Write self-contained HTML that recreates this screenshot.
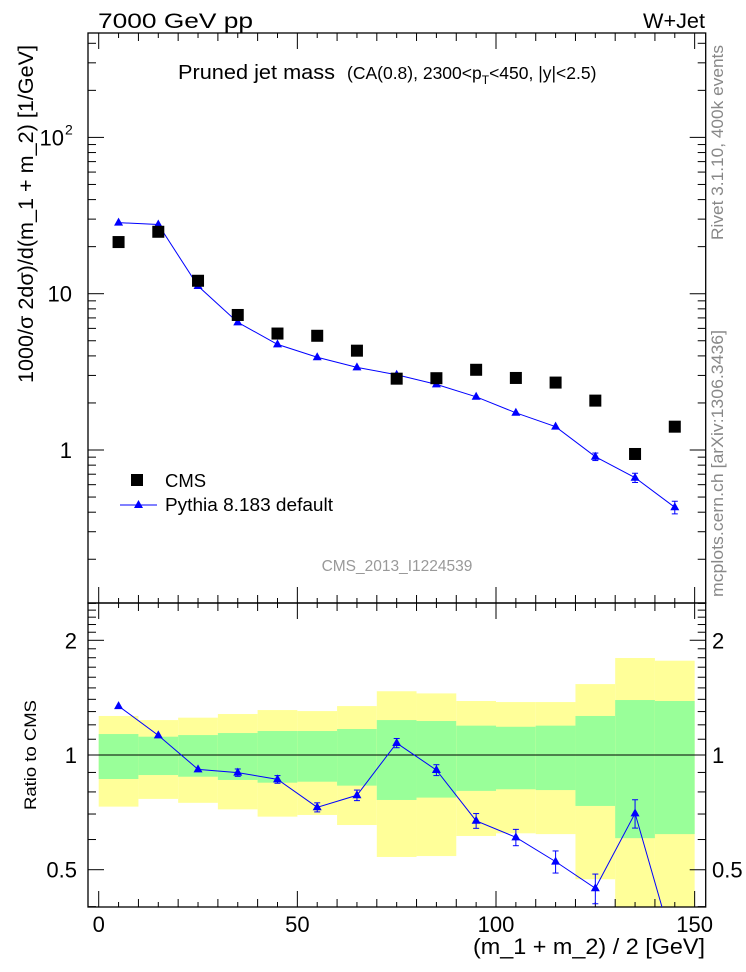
<!DOCTYPE html>
<html><head><meta charset="utf-8"><style>
html,body{margin:0;padding:0;background:#fff;}
svg{display:block;font-family:"Liberation Sans",sans-serif;}
</style></head><body>
<svg id="chart" width="746" height="972" viewBox="0 0 746 972" xmlns="http://www.w3.org/2000/svg">
<defs>
<clipPath id="rclip"><rect x="88" y="603" width="617.7" height="304"/></clipPath>
<clipPath id="mclip"><rect x="88" y="33" width="617.7" height="570"/></clipPath>
</defs>
<g id="bands" clip-path="url(#rclip)"></g>
<g id="grid"></g>
<g id="marks"></g>
<text x="98" y="28" font-size="21" textLength="155" lengthAdjust="spacingAndGlyphs">7000 GeV pp</text>
<text x="643" y="28" font-size="21" textLength="62" lengthAdjust="spacingAndGlyphs">W+Jet</text>
<text x="178" y="79" font-size="20"><tspan textLength="157" lengthAdjust="spacingAndGlyphs">Pruned jet mass</tspan><tspan font-size="17.5" x="347">(CA(0.8), 2300&lt;p</tspan><tspan font-size="12" dy="5">T</tspan><tspan font-size="17.5" dy="-5">&lt;450, |y|&lt;2.5)</tspan></text>
<text x="397" y="571" font-size="15.5" fill="#999" text-anchor="middle">CMS_2013_I1224539</text>
<text transform="translate(33,214) rotate(-90)" font-size="21" text-anchor="middle" textLength="338" lengthAdjust="spacingAndGlyphs">1000/σ 2dσ)/d(m_1 + m_2) [1/GeV]</text>
<text transform="translate(36,755) rotate(-90)" font-size="17" text-anchor="middle" textLength="110" lengthAdjust="spacingAndGlyphs">Ratio to CMS</text>
<text x="473" y="954" font-size="22" textLength="232" lengthAdjust="spacingAndGlyphs">(m_1 + m_2) / 2 [GeV]</text>
<text transform="translate(723,240) rotate(-90)" font-size="17" fill="#888" textLength="195" lengthAdjust="spacingAndGlyphs">Rivet 3.1.10,  400k events</text>
<text transform="translate(723,597) rotate(-90)" font-size="17" fill="#888" textLength="267" lengthAdjust="spacingAndGlyphs">mcplots.cern.ch [arXiv:1306.3436]</text>
<g>
<rect x="131" y="474" width="12" height="12" fill="#000"/>
<text x="165" y="487" font-size="18.5">CMS</text>
<line x1="120" y1="505" x2="157" y2="505" stroke="#00f" stroke-width="1"/>
<path d="M138.5,500 L143,508 L134,508 Z" fill="#00f"/>
<text x="165" y="511" font-size="18.5" textLength="168" lengthAdjust="spacingAndGlyphs">Pythia 8.183 default</text>
</g>
</svg>
<script>
const binEdges = [0,10,20,30,40,50,60,70,80,90,100,110,120,130,140,150];
const binCenters = [5,15,25,35,45,55,65,75,85,95,105,115,125,135,145];
const cmsValues = [21.4,24.9,12.1,7.31,5.56,5.38,4.32,2.86,2.88,3.26,2.89,2.70,2.07,0.943,1.41];
const pythiaValues = [28.5,27.7,11.2,6.56,4.74,3.92,3.38,3.03,2.63,2.19,1.73,1.41,0.906,0.665,0.430];
const pythiaErrors = [0.3,0.3,0.15,0.1,0.07,0.06,0.05,0.05,0.05,0.04,0.04,0.035,0.05,0.045,0.04];
const ratioValues = [1.344,1.126,0.917,0.899,0.863,0.729,0.784,1.075,0.913,0.672,0.608,0.525,0.447,0.703,0.305];
const ratioErrors = [0.01,0.01,0.01,0.02,0.02,0.02,0.025,0.03,0.03,0.03,0.03,0.035,0.04,0.06,0.05];
const yellowHi = [1.266,1.235,1.253,1.281,1.312,1.304,1.344,1.47,1.451,1.386,1.377,1.377,1.535,1.797,1.768];
const greenHi = [1.135,1.117,1.128,1.142,1.156,1.156,1.170,1.235,1.228,1.194,1.186,1.194,1.266,1.394,1.386];
const greenLo = [0.865,0.886,0.877,0.860,0.846,0.851,0.831,0.762,0.773,0.805,0.813,0.809,0.735,0.605,0.620];
const yellowLo = [0.732,0.767,0.749,0.720,0.689,0.696,0.655,0.54,0.543,0.613,0.623,0.620,0.472,0.30,0.30];
const xTicks = [0,50,100,150];
const ratioTicks = [0.5,1,2];

const NS="http://www.w3.org/2000/svg";
const X=v=>98.7+v*3.973;
const Y=v=>450-Math.log10(v)*156.3;
const R=v=>755-Math.log2(v)*114.7;
const L=88, Rt=705.7, T=33, M=603, B=907;
function mk(tag,attrs,parent){const e=document.createElementNS(NS,tag);for(const k in attrs)e.setAttribute(k,attrs[k]);parent.appendChild(e);return e;}
const bands=document.getElementById('bands'), grid=document.getElementById('grid'), marks=document.getElementById('marks');

for(let i=0;i<binCenters.length;i++){
  const x0=X(binEdges[i]), x1=X(binEdges[i+1]);
  const y=mk('rect',{x:x0,y:R(yellowHi[i]),width:x1-x0,height:R(yellowLo[i])-R(yellowHi[i]),fill:'#ffff99'},bands);
  
  
  const g=mk('rect',{x:x0,y:R(greenHi[i]),width:x1-x0,height:R(greenLo[i])-R(greenHi[i]),fill:'#99ff99'},bands);
  
  
}
const ul=mk('line',{x1:L,x2:Rt,y1:R(1),y2:R(1),stroke:'#000','stroke-width':1},grid);



const f1=mk('rect',{x:L,y:T,width:Rt-L,height:M-T,fill:'none',stroke:'#000','stroke-width':1.3},grid);


const f2=mk('rect',{x:L,y:M,width:Rt-L,height:B-M,fill:'none',stroke:'#000','stroke-width':1.3},grid);



for(let v=0;v<=150;v+=10){
  const maj=v%50===0, x=X(v), len=maj?16:8;
  [[T,1],[M,-1],[M,1],[B,-1]].forEach(([yy,d])=>{
    mk('line',{x1:x,x2:x,y1:yy,y2:yy+d*len,stroke:'#000','stroke-width':1},grid);
  });
}
for(let v=5;v<150;v+=10){
  const x=X(v);
  [[T,1],[M,-1],[M,1],[B,-1]].forEach(([yy,d])=>mk('line',{x1:x,x2:x,y1:yy,y2:yy+d*5,stroke:'#000','stroke-width':1},grid));
}
xTicks.forEach(v=>{
  const t=mk('text',{x:X(v),y:932,'font-size':22,'text-anchor':'middle'},grid);
  t.textContent=v;
  
  
});
for(let e=-1;e<=2;e++){
  for(let m=1;m<=9;m++){
    const v=m*Math.pow(10,e), y=Y(v);
    if(y<T||y>M)continue;
    const len=m===1?16:8;
    mk('line',{x1:L,x2:L+len,y1:y,y2:y,stroke:'#000','stroke-width':1},grid);
    mk('line',{x1:Rt,x2:Rt-len,y1:y,y2:y,stroke:'#000','stroke-width':1},grid);
  }
}
[[1,'1'],[10,'10']].forEach(([v,s])=>{
  const t=mk('text',{x:72,y:Y(v)+8,'font-size':22,'text-anchor':'end'},grid);
  t.textContent=s;
  
  
});
const t100=mk('text',{x:64,y:Y(100)+8,'font-size':22,'text-anchor':'end'},grid);
t100.textContent='10';


const sup=mk('text',{x:65,y:Y(100)-3,'font-size':14},grid);
sup.textContent='2';
const rminor=[0.4,0.5,0.6,0.7,0.8,0.9,1,1.1,1.2,1.3,1.4,1.5,1.6,1.7,1.8,1.9,2,2.1,2.2,2.3,2.4,2.5];
rminor.forEach(v=>{
  const y=R(v); if(y<M||y>B)return;
  const len=ratioTicks.includes(v)?16:8;
  mk('line',{x1:L,x2:L+len,y1:y,y2:y,stroke:'#000','stroke-width':1},grid);
  mk('line',{x1:Rt,x2:Rt-len,y1:y,y2:y,stroke:'#000','stroke-width':1},grid);
});
ratioTicks.forEach(v=>{
  const a=mk('text',{x:77,y:R(v)+8,'font-size':22,'text-anchor':'end'},grid);
  a.textContent=v;
  
  
  const b=mk('text',{x:712,y:R(v)+8,'font-size':22},grid);
  b.textContent=v;
  
  
});

const mg=mk('g',{'clip-path':'url(#mclip)'},marks);
const pl=mk('polyline',{points:binCenters.map((c,i)=>X(c)+','+Y(pythiaValues[i])).join(' '),fill:'none',stroke:'#00f','stroke-width':1},mg);


binCenters.forEach((c,i)=>{
  const x=X(c), y=Y(pythiaValues[i]);
  const y1=Y(pythiaValues[i]+pythiaErrors[i]), y2=Y(pythiaValues[i]-pythiaErrors[i]);
  if(y2-y1>6){
    mk('line',{x1:x,x2:x,y1:y1,y2:y2,stroke:'#00f'},mg);
    mk('line',{x1:x-3,x2:x+3,y1:y1,y2:y1,stroke:'#00f'},mg);
    mk('line',{x1:x-3,x2:x+3,y1:y2,y2:y2,stroke:'#00f'},mg);
  }
  const tr=mk('path',{d:`M${x},${y-5} L${x+4.5},${y+3} L${x-4.5},${y+3} Z`,fill:'#00f'},mg);
  
  
  const sq=mk('rect',{x:x-6,y:Y(cmsValues[i])-6,width:12,height:12,fill:'#000'},mg);
  
  
});
const rg=mk('g',{'clip-path':'url(#rclip)'},marks);
const rl=mk('polyline',{points:binCenters.map((c,i)=>X(c)+','+R(ratioValues[i])).join(' '),fill:'none',stroke:'#00f','stroke-width':1},rg);


binCenters.forEach((c,i)=>{
  const x=X(c), y=R(ratioValues[i]);
  const y1=R(ratioValues[i]+ratioErrors[i]), y2=R(ratioValues[i]-ratioErrors[i]);
  if(y2-y1>5){
    mk('line',{x1:x,x2:x,y1:y1,y2:y2,stroke:'#00f'},rg);
    mk('line',{x1:x-3,x2:x+3,y1:y1,y2:y1,stroke:'#00f'},rg);
    mk('line',{x1:x-3,x2:x+3,y1:y2,y2:y2,stroke:'#00f'},rg);
  }
  const tr=mk('path',{d:`M${x},${y-5} L${x+4.5},${y+3} L${x-4.5},${y+3} Z`,fill:'#00f'},rg);
  
  
});
</script>
</body></html>
